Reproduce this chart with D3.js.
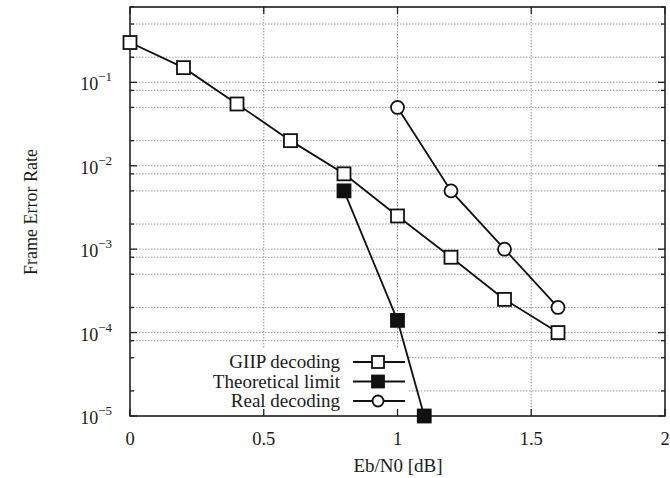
<!DOCTYPE html>
<html>
<head>
<meta charset="utf-8">
<script src="https://cdn.jsdelivr.net/npm/d3@7"></script>
<style>
  body { margin: 0; background: #fff; }
  text { font-family: "Liberation Serif", "Times New Roman", serif; fill: #1a1a1a; }
</style>
</head>
<body>
<script>
var w = 670;
var h = 478;

// data
var giipX = [0, 0.2, 0.4, 0.6, 0.8, 1.0, 1.2, 1.4, 1.6];
var giipY = [0.3, 0.15, 0.055, 0.02, 0.008, 0.0025, 0.0008, 0.00025, 0.0001];
var theoX = [0.8, 1.0, 1.1];
var theoY = [0.005, 0.00014, 0.00001];
var realX = [1.0, 1.2, 1.4, 1.6];
var realY = [0.05, 0.005, 0.001, 0.0002];

var xTicks = [0, 0.5, 1, 1.5, 2];
var yMajor = [1e-5, 1e-4, 1e-3, 1e-2, 1e-1];
var yMinorMult = [2, 5, 8];
var legendNames = ["GIIP decoding", "Theoretical limit", "Real decoding"];

// plot box (note: "top" is taken by window.top)
var pLeft = 130, pRight = 665, pTop = 7, pBottom = 416;

var x = d3.scaleLinear().domain([0, 2]).range([pLeft, pRight]);
var y = d3.scaleLog().domain([1e-5, 0.8]).range([pBottom, pTop]);

var svg = d3.select("body").append("svg")
            .attr("width", w)
            .attr("height", h);

// minor tick values 2,5,8 x 10^n
var yMinor = [];
yMajor.forEach(function(d) {
  yMinorMult.forEach(function(m) {
    if (d * m <= 0.8) yMinor.push(d * m);
  });
});

var grid = svg.append("g")
              .attr("stroke", "#999")
              .attr("stroke-width", 1)
              .attr("stroke-dasharray", "1.5,1.5");

grid.selectAll("line.h").data(yMajor.concat(yMinor))
    .enter().append("line")
    .attr("x1", pLeft).attr("x2", pRight)
    .attr("y1", function(d) { return y(d); })
    .attr("y2", function(d) { return y(d); });

grid.selectAll("line.v").data([0.5, 1, 1.5])
    .enter().append("line")
    .attr("x1", function(d) { return x(d); })
    .attr("x2", function(d) { return x(d); })
    .attr("y1", pTop).attr("y2", pBottom);

// opaque legend box hides the grid behind it
svg.append("rect")
   .attr("x", pLeft + 6).attr("y", 348)
   .attr("width", 272).attr("height", pBottom - 348 - 1)
   .attr("fill", "#fff");

// ticks, inward, mirrored
var tk = svg.append("g").attr("stroke", "#222").attr("stroke-width", 1.3);
yMajor.forEach(function(d) {
  tk.append("line").attr("x1", pLeft).attr("x2", pLeft + 7).attr("y1", y(d)).attr("y2", y(d));
  tk.append("line").attr("x1", pRight).attr("x2", pRight - 7).attr("y1", y(d)).attr("y2", y(d));
});
yMinor.forEach(function(d) {
  tk.append("line").attr("x1", pLeft).attr("x2", pLeft + 4).attr("y1", y(d)).attr("y2", y(d));
  tk.append("line").attr("x1", pRight).attr("x2", pRight - 4).attr("y1", y(d)).attr("y2", y(d));
});
xTicks.forEach(function(d) {
  tk.append("line").attr("x1", x(d)).attr("x2", x(d)).attr("y1", pBottom).attr("y2", pBottom - 7);
  tk.append("line").attr("x1", x(d)).attr("x2", x(d)).attr("y1", pTop).attr("y2", pTop + 7);
});

// frame
svg.append("rect")
   .attr("x", pLeft).attr("y", pTop)
   .attr("width", pRight - pLeft).attr("height", pBottom - pTop)
   .attr("fill", "none").attr("stroke", "#222").attr("stroke-width", 1.6);

// y tick labels 10^n
yMajor.forEach(function(d) {
  var t = svg.append("text")
             .attr("x", 112).attr("y", y(d) + 8)
             .attr("text-anchor", "end")
             .attr("font-size", "18px");
  t.append("tspan").text("10");
  t.append("tspan").attr("dy", -9).attr("font-size", "13px")
   .text("\u2212" + Math.round(-Math.log10(d)));
});

// x tick labels
svg.selectAll("text.xt").data(xTicks)
   .enter().append("text")
   .attr("x", function(d) { return x(d); })
   .attr("y", 445)
   .attr("text-anchor", "middle")
   .attr("font-size", "18.5px")
   .text(function(d) { return d; });

svg.append("text")
   .attr("x", 398).attr("y", 472)
   .attr("text-anchor", "middle")
   .attr("font-size", "19px")
   .text("Eb/N0 [dB]");

svg.append("text")
   .attr("transform", "translate(37,212) rotate(-90)")
   .attr("text-anchor", "middle")
   .attr("font-size", "18px")
   .text("Frame Error Rate");

var line = d3.line()
             .x(function(d) { return x(d[0]); })
             .y(function(d) { return y(d[1]); });

var series = [
  { xs: giipX, ys: giipY, mark: "sq" },
  { xs: theoX, ys: theoY, mark: "fsq" },
  { xs: realX, ys: realY, mark: "circ" }
];

function drawMark(g, mark, cx, cy) {
  if (mark === "circ") {
    g.append("circle").attr("cx", cx).attr("cy", cy).attr("r", 6.5)
     .attr("fill", "#fff").attr("stroke", "#111").attr("stroke-width", 1.8);
  } else {
    g.append("rect").attr("x", cx - 6.5).attr("y", cy - 6.5)
     .attr("width", 13).attr("height", 13)
     .attr("fill", mark === "fsq" ? "#111" : "#fff")
     .attr("stroke", "#111").attr("stroke-width", 1.8);
  }
}

series.forEach(function(s) {
  var pts = s.xs.map(function(v, i) { return [v, s.ys[i]]; });
  svg.append("path").datum(pts)
     .attr("d", line)
     .attr("fill", "none")
     .attr("stroke", "#111")
     .attr("stroke-width", 1.8);
  var g = svg.append("g");
  pts.forEach(function(p) { drawMark(g, s.mark, x(p[0]), y(p[1])); });
});

// legend
legendNames.forEach(function(name, i) {
  var ly = 362 + i * 19.5;
  svg.append("text")
     .attr("x", 340).attr("y", ly + 6)
     .attr("text-anchor", "end")
     .attr("font-size", "19px")
     .text(name);
  svg.append("line")
     .attr("x1", 353).attr("x2", 405)
     .attr("y1", ly).attr("y2", ly)
     .attr("stroke", "#111").attr("stroke-width", 1.8);
  var g = svg.append("g");
  if (series[i].mark === "circ") {
    g.append("circle").attr("cx", 378).attr("cy", ly).attr("r", 5.5)
     .attr("fill", "#fff").attr("stroke", "#111").attr("stroke-width", 1.8);
  } else {
    g.append("rect").attr("x", 372).attr("y", ly - 6).attr("width", 12).attr("height", 12)
     .attr("fill", series[i].mark === "fsq" ? "#111" : "#fff")
     .attr("stroke", "#111").attr("stroke-width", 1.8);
  }
});
</script>
</body>
</html>
